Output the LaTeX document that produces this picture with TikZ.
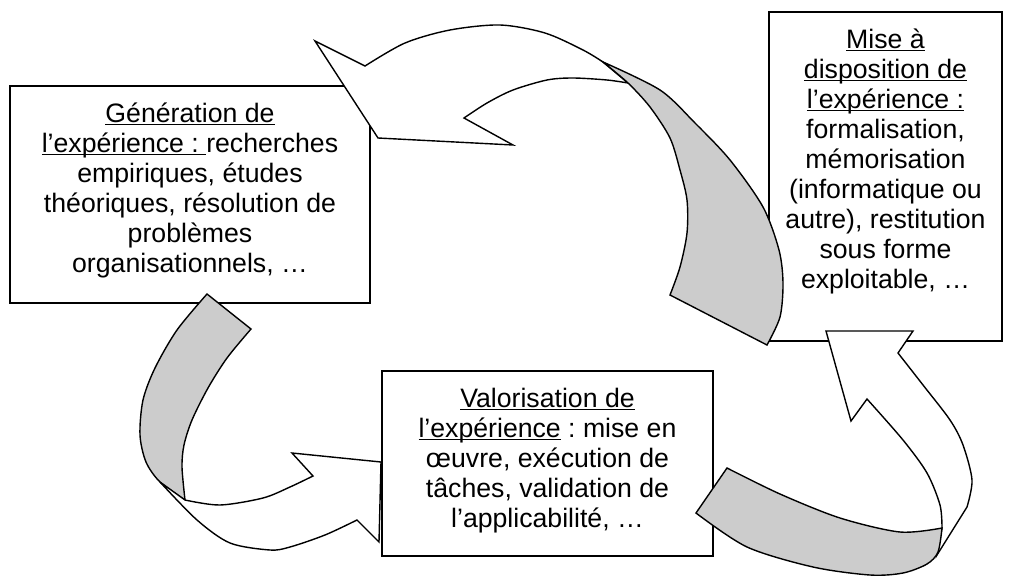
\documentclass[tikz,border=0pt]{standalone}
\usepackage{fontspec}
\setmainfont{Liberation Sans}
\frenchspacing
\definecolor{ribbon}{RGB}{204,204,204}
\newcommand\myul[1]{\setbox0=\hbox{#1}\rlap{\rule[-0.13em]{\wd0}{0.055em}}\box0 }
\begin{document}
\begin{tikzpicture}[x=0.75pt,y=-0.75pt,
  box/.style={draw, line width=1.3pt, fill=white, inner sep=0},
  txt/.style={inner sep=0, font=\fontsize{20}{22.5}\selectfont\frenchspacing, anchor=base},
  arrw/.style={draw, line width=1.05pt, fill=white, line join=miter},
  arrg/.style={draw, line width=1.05pt, fill=ribbon, line join=miter}]
\useasboundingbox (0,0) rectangle (1014,575);

% boxes
\node[box, minimum width=270pt, minimum height=162.75pt] (gen) at (190,194.5) {};
\node[box, minimum width=174.75pt, minimum height=246.75pt] (mise) at (885.5,176.5) {};
\node[box, minimum width=248.25pt, minimum height=138.75pt] (val) at (547.5,463.5) {};

% texts
\node[txt] (gentext) at (190,122) {\begin{tabular}[t]{@{}c@{}}
\myul{Génération de}\\
\myul{l’expérience : }recherches\\
empiriques, études\\
théoriques, résolution de\\
problèmes\\
organisationnels, …
\end{tabular}};

\node[txt] (misetext) at (885.5,48) {\begin{tabular}[t]{@{}c@{}}
\myul{Mise à}\\
\myul{disposition de}\\
\myul{l’expérience :}\\
formalisation,\\
mémorisation\\
(informatique ou\\
autre), restitution\\
sous forme\\
exploitable, …
\end{tabular}};

\node[txt] (valtext) at (547.5,407) {\begin{tabular}[t]{@{}c@{}}
\myul{Valorisation de}\\
\myul{l’expérience} : mise en\\
œuvre, exécution de\\
tâches, validation de\\
l’applicabilité, …
\end{tabular}};

% arrow 1 : mise -> gen (top)
\path[arrw] plot[smooth] coordinates {(603,62) (583,50) (545,33) (500,25) (450,30) (405,43) (365,66)}
  -- (315,41) -- (378,138) -- (513,145) -- (464,118)
  -- plot[smooth] coordinates {(464,118) (487,103) (513,90) (547,80) (573,78) (607,80) (628,83)} -- cycle;
\path[arrg] plot[smooth] coordinates {(603,62) (628,83) (650,107) (670,138) (680,170) (687,200) (687,233) (680,267) (670,295)}
  -- plot[smooth] coordinates {(767,345) (780,317) (783,283) (779,250) (763,207) (730,160) (695,123) (660,90) (603,62)} -- cycle;

% arrow 2 : gen -> val (left)
\path[arrg] plot[smooth] coordinates {(207,294) (177,330) (155,368) (143,400) (140,435) (146,462) (160,482) (185,500)}
  -- plot[smooth] coordinates {(185,500) (182,467) (184,445) (192,420) (208,388) (227,358) (251,329)} -- cycle;
\path[arrw] plot[smooth] coordinates {(185,500) (220,505) (263,498) (290,487) (313,476)}
  -- (292,453) -- (381,462) -- (379,542)
  -- plot[smooth] coordinates {(357,520) (325,535) (290,547) (270,550) (230,543) (197,520) (160,482)} -- cycle;

% arrow 3 : val -> mise (bottom right)
\path[arrw] plot[smooth] coordinates {(942,528) (940,505) (927,473) (903,440) (867,399)}
  -- (851,421) -- (826,331) -- (913,331)
  -- plot[smooth] coordinates {(898,353) (923,385) (950,420) (963,445) (972,480) (967,507)}
  -- (937,555) -- cycle;
\path[arrg] plot[smooth] coordinates {(727,468) (780,494) (840,518) (900,532) (942,528)}
  -- plot[smooth] coordinates {(942,528) (938,552) (927,564) (903,573) (870,575) (813,567) (747,547) (696,513)} -- cycle;
\end{tikzpicture}
\end{document}
